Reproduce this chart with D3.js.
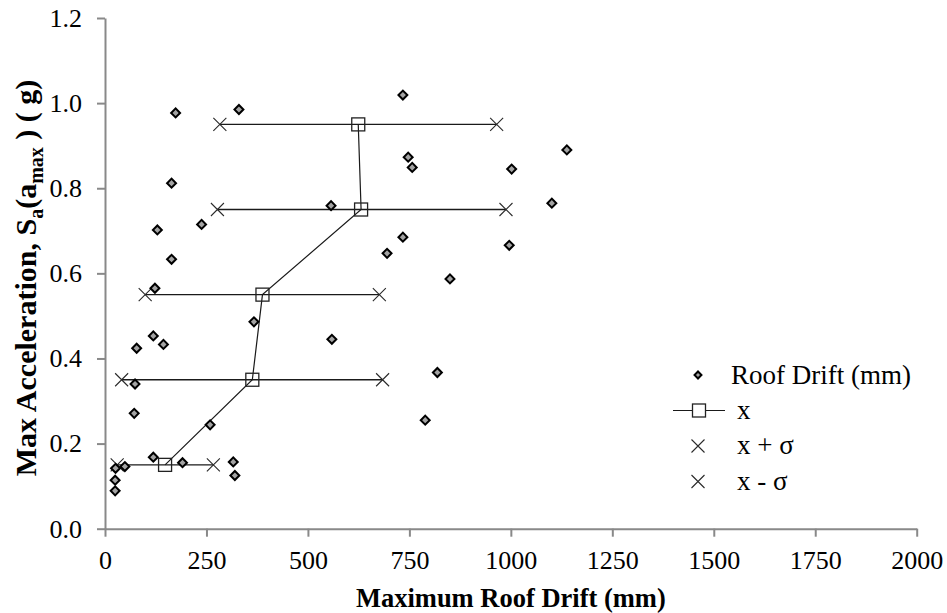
<!DOCTYPE html>
<html>
<head>
<meta charset="utf-8">
<script src="https://cdn.jsdelivr.net/npm/d3@7"></script>
<style>
  body { margin: 0; background: #fff; }
  svg { display: block; }
</style>
</head>
<body>
<svg id="chart" width="947" height="613"></svg>
<script>
// Individual records: maximum roof drift (mm) vs. max acceleration Sa (g)
const driftMm = [174, 330, 164, 129, 238, 164, 123, 557, 367, 119, 144, 78,
                 559, 74, 72, 259, 119, 191, 316, 320, 26, 49, 25, 25,
                 734, 1138, 747, 757, 1002, 1101, 734, 695, 996, 850, 819, 789];
const accelG  = [0.977, 0.985, 0.812, 0.702, 0.715, 0.633, 0.565, 0.759, 0.486, 0.453, 0.433, 0.424,
                 0.445, 0.340, 0.271, 0.244, 0.168, 0.155, 0.157, 0.125, 0.142, 0.146, 0.114, 0.089,
                 1.019, 0.890, 0.873, 0.849, 0.845, 0.765, 0.685, 0.647, 0.666, 0.587, 0.367, 0.255];

// Binned statistics per acceleration level
const levelsG    = [0.15, 0.35, 0.55, 0.75, 0.95];
const meanDrift  = [148, 363, 388, 631, 624];
const plusSigma  = [267, 684, 676, 988, 965];
const minusSigma = [30, 41, 99, 277, 283];

const xTicks = [0, 250, 500, 750, 1000, 1250, 1500, 1750, 2000];
const yTicks = [0, 0.2, 0.4, 0.6, 0.8, 1.0, 1.2];
const legendLabels = ["Roof Drift (mm)", "x", "x + \u03c3", "x - \u03c3"];

const FONT = "'Liberation Serif', 'Times New Roman', 'DejaVu Serif', serif";
const svg = d3.select("#chart");
const axisColor = "#898989";
const x = d3.scaleLinear().domain([0, 2000]).range([105, 916.7]);
const y = d3.scaleLinear().domain([0, 1.2]).range([528.7, 18]);

// Axes
const gx = svg.append("g").attr("transform", `translate(0,${y(0)})`)
  .call(d3.axisBottom(x).tickValues(xTicks).tickSize(8).tickSizeOuter(0).tickPadding(14).tickFormat(d3.format("d")));
const gy = svg.append("g").attr("transform", `translate(${x(0)},0)`)
  .call(d3.axisLeft(y).tickValues(yTicks).tickSize(8).tickSizeOuter(0).tickPadding(15).tickFormat(d3.format(".1f")));
[gx, gy].forEach(g => {
  g.attr("font-family", null).attr("font-size", null);
  g.select(".domain").attr("stroke", axisColor).attr("stroke-width", 2);
  g.selectAll(".tick line").attr("stroke", axisColor).attr("stroke-width", 2);
  g.selectAll(".tick text").style("font-family", FONT).style("font-size", "26px").attr("fill", "#000");
});

// Axis titles
svg.append("text")
  .attr("x", (x(0) + x(2000)) / 2).attr("y", 607)
  .attr("text-anchor", "middle")
  .style("font-family", FONT).style("font-weight", "bold").style("font-size", "26.5px")
  .text("Maximum Roof Drift (mm)");

const yTitle = svg.append("text")
  .attr("transform", "translate(36,278) rotate(-90)")
  .attr("text-anchor", "middle")
  .style("font-family", FONT).style("font-weight", "bold").style("font-size", "30px")
  .style("white-space", "pre");
yTitle.append("tspan").text("Max Acceleration, S");
yTitle.append("tspan").style("font-size", "20px").attr("dy", 7).text("a");
yTitle.append("tspan").attr("dy", -7).text("(a");
yTitle.append("tspan").style("font-size", "20px").attr("dy", 7).text("max");
yTitle.append("tspan").attr("dy", -7).text(" ) ( g)");

// Horizontal spread lines from x - sigma to x + sigma
svg.append("g").selectAll("line").data(levelsG).join("line")
  .attr("x1", (d, i) => x(minusSigma[i])).attr("x2", (d, i) => x(plusSigma[i]))
  .attr("y1", d => y(d)).attr("y2", d => y(d))
  .attr("stroke", "#1a1a1a").attr("stroke-width", 1.3);

// Mean curve
const meanPts = levelsG.map((d, i) => [meanDrift[i], d]);
svg.append("path").datum(meanPts)
  .attr("d", d3.line().x(d => x(d[0])).y(d => y(d[1])))
  .attr("fill", "none").attr("stroke", "#1a1a1a").attr("stroke-width", 1.2);

const sq = 13;
svg.append("g").selectAll("rect").data(meanPts).join("rect")
  .attr("x", d => x(d[0]) - sq / 2).attr("y", d => y(d[1]) - sq / 2)
  .attr("width", sq).attr("height", sq)
  .attr("fill", "none").attr("stroke", "#222").attr("stroke-width", 1.3);

// Cross markers for x + sigma and x - sigma
function cross(g, cx, cy, r) {
  g.append("path")
    .attr("d", `M${cx - r},${cy - r}L${cx + r},${cy + r}M${cx - r},${cy + r}L${cx + r},${cy - r}`)
    .attr("stroke", "#2a2a2a").attr("stroke-width", 1.1).attr("fill", "none");
}
const crosses = svg.append("g");
levelsG.forEach((d, i) => {
  cross(crosses, x(plusSigma[i]), y(d), 6.5);
  cross(crosses, x(minusSigma[i]), y(d), 6.5);
});

// Roof drift scatter (diamonds)
const diamond = d3.symbol().type(d3.symbolSquare).size(40);
svg.append("g").selectAll("path").data(driftMm).join("path")
  .attr("d", diamond)
  .attr("transform", (d, i) => `translate(${x(d)},${y(accelG[i])}) rotate(45)`)
  .attr("fill", "#a3a3a3").attr("stroke", "#000").attr("stroke-width", 2);

// Legend
const legendBase = [384, 418.5, 454, 489.5];
const legendTextX = [731, 737, 737, 737];
const lg = svg.append("g");
legendLabels.forEach((label, i) => {
  lg.append("text").attr("x", legendTextX[i]).attr("y", legendBase[i])
    .style("font-family", FONT).style("font-size", "27px").text(label);
});
lg.append("path").attr("d", d3.symbol().type(d3.symbolSquare).size(24))
  .attr("transform", `translate(698,${legendBase[0] - 9}) rotate(45)`)
  .attr("fill", "#a3a3a3").attr("stroke", "#000").attr("stroke-width", 2);
lg.append("line").attr("x1", 673).attr("x2", 725)
  .attr("y1", legendBase[1] - 8).attr("y2", legendBase[1] - 8)
  .attr("stroke", "#1a1a1a").attr("stroke-width", 1.2);
lg.append("rect").attr("x", 699 - 6.5).attr("y", legendBase[1] - 8 - 6.5)
  .attr("width", sq).attr("height", sq).attr("fill", "#fff")
  .attr("stroke", "#222").attr("stroke-width", 1.3);
cross(lg, 698, legendBase[2] - 8, 6.5);
cross(lg, 698, legendBase[3] - 8, 6.5);
</script>
</body>
</html>
